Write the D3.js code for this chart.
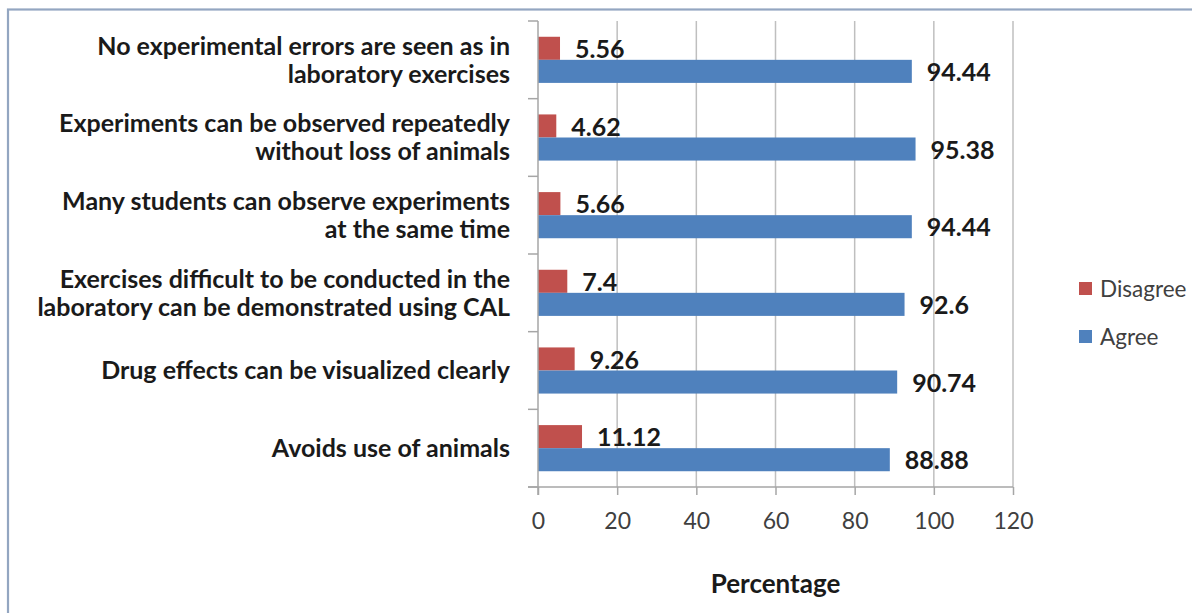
<!DOCTYPE html>
<html>
<head>
<meta charset="utf-8">
<script src="https://cdn.jsdelivr.net/npm/d3@7"></script>
<style>
  html, body { margin: 0; padding: 0; background: #fff; }
  svg { display: block; }
</style>
</head>
<body>
<svg id="chart" width="1192" height="613"></svg>
<script>
// Survey statements (top to bottom), each split into display lines
const categories = [
  ["No experimental errors are seen as in", "laboratory exercises"],
  ["Experiments can be observed repeatedly", "without loss of animals"],
  ["Many students can observe experiments", "at the same time"],
  ["Exercises difficult to be conducted in the", "laboratory can be demonstrated using CAL"],
  ["Drug effects can be visualized clearly"],
  ["Avoids use of animals"]
];
const seriesNames = ["Disagree", "Agree"];
const disagree = [5.56, 4.62, 5.66, 7.4, 9.26, 11.12];
const agree = [94.44, 95.38, 94.44, 92.6, 90.74, 88.88];
const xTicks = [0, 20, 40, 60, 80, 100, 120];
const colors = { Disagree: "#c0504d", Agree: "#4f81bd" };

const svg = d3.select("#chart");
const font = "Lato, 'Open Sans', sans-serif";

// Outer chart frame
svg.append("rect")
  .attr("x", 8).attr("y", 9.5)
  .attr("width", 1300).attr("height", 800)
  .attr("fill", "none")
  .attr("stroke", "#93a6c1")
  .attr("stroke-width", 2.2);

const plot = { left: 538, right: 1013, top: 21, bottom: 487 };

const x = d3.scaleLinear().domain([0, 120]).range([plot.left, plot.right]);
const keys = categories.map((c, i) => i);
const y = d3.scaleBand().domain(keys)
  .range([plot.top, plot.bottom])
  .paddingInner(0.406).paddingOuter(0.203);
const ySub = d3.scaleBand().domain(seriesNames).range([0, y.bandwidth()]);

// Vertical gridlines
svg.append("g")
  .selectAll("line")
  .data(xTicks.slice(1))
  .join("line")
  .attr("x1", d => x(d)).attr("x2", d => x(d))
  .attr("y1", plot.top).attr("y2", plot.bottom)
  .attr("stroke", "#bfbfbf").attr("stroke-width", 1.5);

// Bars
const rows = categories.map((c, i) => ({ i, Disagree: disagree[i], Agree: agree[i] }));
const groups = svg.append("g").selectAll("g")
  .data(rows).join("g")
  .attr("transform", d => `translate(0,${y(d.i)})`);

groups.selectAll("rect")
  .data(d => seriesNames.map(k => ({ key: k, value: d[k] })))
  .join("rect")
  .attr("x", x(0))
  .attr("y", d => ySub(d.key))
  .attr("width", d => x(d.value) - x(0))
  .attr("height", ySub.bandwidth())
  .attr("fill", d => colors[d.key]);

groups.selectAll("text")
  .data(d => seriesNames.map(k => ({ key: k, value: d[k] })))
  .join("text")
  .attr("x", d => x(d.value) + 15)
  .attr("y", d => ySub(d.key) + ySub.bandwidth() / 2 + 1)
  .attr("dy", "0.35em")
  .attr("font-family", font)
  .attr("font-weight", "bold")
  .attr("font-size", 25)
  .attr("fill", "#1a1a1a")
  .text(d => d.value);

// Category axis with ticks between groups
const yAxisG = svg.append("g");
yAxisG.append("line")
  .attr("x1", plot.left).attr("x2", plot.left)
  .attr("y1", plot.top).attr("y2", plot.bottom + 8)
  .attr("stroke", "#a6a6a6").attr("stroke-width", 1.5);
const bounds = d3.range(categories.length + 1).map(k => plot.top + k * (plot.bottom - plot.top) / categories.length);
yAxisG.selectAll("line.tick")
  .data(bounds)
  .join("line").attr("class", "tick")
  .attr("x1", plot.left - 10).attr("x2", plot.left)
  .attr("y1", d => d).attr("y2", d => d)
  .attr("stroke", "#a6a6a6").attr("stroke-width", 1.5);

// Category labels
const labels = svg.append("g").selectAll("text")
  .data(categories.map((lines, i) => ({ lines, i })))
  .join("text")
  .attr("text-anchor", "end")
  .attr("font-family", font)
  .attr("font-weight", "bold")
  .attr("font-size", 25)
  .attr("fill", "#1a1a1a");
labels.each(function(d) {
  const cy = y(d.i) + y.bandwidth() / 2;
  const lh = 28;
  const n = d.lines.length;
  d3.select(this).selectAll("tspan")
    .data(d.lines).join("tspan")
    .attr("x", 510)
    .attr("y", (t, j) => cy + (j - (n - 1) / 2) * lh)
    .attr("dy", "0.35em")
    .text(t => t);
});

// Value axis
const xAxis = d3.axisBottom(x).tickValues(xTicks).tickSize(8).tickSizeOuter(0).tickPadding(18);
const xg = svg.append("g")
  .attr("transform", `translate(0,${plot.bottom})`)
  .call(xAxis);
xg.select(".domain").attr("stroke", "#a6a6a6").attr("stroke-width", 1.5)
  .attr("d", `M${plot.left - 10},0H${plot.right}`);
xg.selectAll(".tick line").attr("stroke", "#a6a6a6").attr("stroke-width", 1.5);
xg.selectAll(".tick text")
  .attr("font-family", font)
  .attr("font-size", 23)
  .attr("fill", "#404040");

svg.append("text")
  .attr("x", (plot.left + plot.right) / 2)
  .attr("y", 593)
  .attr("text-anchor", "middle")
  .attr("font-family", font)
  .attr("font-weight", "bold")
  .attr("font-size", 26)
  .attr("fill", "#1a1a1a")
  .text("Percentage");

// Legend
const legend = svg.append("g").selectAll("g")
  .data(seriesNames).join("g")
  .attr("transform", (d, i) => `translate(1079,${282 + i * 48})`);
legend.append("rect")
  .attr("width", 13).attr("height", 13)
  .attr("fill", d => colors[d]);
legend.append("text")
  .attr("x", 21).attr("y", 7)
  .attr("dy", "0.35em")
  .attr("font-family", font)
  .attr("font-size", 22.5)
  .attr("fill", "#404040")
  .text(d => d);
</script>
</body>
</html>
